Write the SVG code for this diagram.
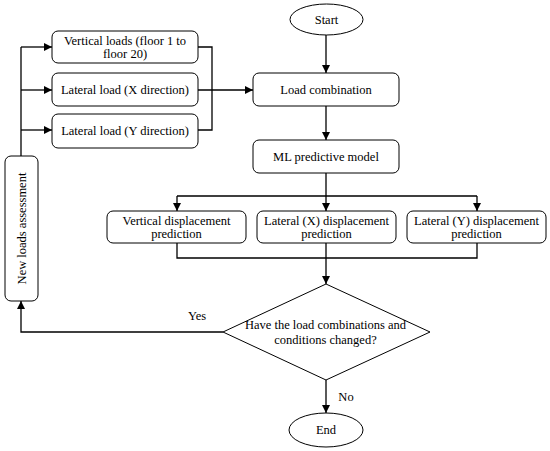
<svg xmlns="http://www.w3.org/2000/svg" width="550" height="451" viewBox="0 0 550 451">
<style>
text{font-family:"Liberation Serif","Times New Roman",serif;font-size:12.5px;fill:#000;text-anchor:middle}
.box{fill:#fff;stroke:#000;stroke-width:1}
.ln{fill:none;stroke:#000;stroke-width:1.3}
.ar{fill:none;stroke:#000;stroke-width:1.3;marker-end:url(#ah)}
</style>
<defs>
<marker id="ah" viewBox="0 0 10 10" refX="10" refY="5" markerWidth="8" markerHeight="8" markerUnits="userSpaceOnUse" orient="auto">
<path d="M0,0 L10,5 L0,10 z" fill="#000"/>
</marker>
</defs>
<rect width="550" height="451" fill="#fff"/>
<g id="connectors">
<path class="ar" d="M326,35 V73"/>
<path class="ar" d="M326,106 V140"/>
<path class="ln" d="M326,173 V196 M177,196 H477"/>
<path class="ar" d="M177,196 V211"/>
<path class="ar" d="M326,196 V211"/>
<path class="ar" d="M477,196 V211"/>
<path class="ln" d="M177,243 V258 H477 V243"/>
<path class="ar" d="M326,243 V284"/>
<path class="ar" d="M326,380 V413"/>
<path class="ar" d="M223,332 H21 V301"/>
<path class="ln" d="M21,156 V47"/>
<path class="ar" d="M21,47 H52"/>
<path class="ar" d="M21,90 H52"/>
<path class="ar" d="M21,130 H52"/>
<path class="ln" d="M198,47 H212 V130 H198"/>
<path class="ar" d="M198,90 H253"/>
</g>
<g id="start">
<ellipse class="box" cx="326.5" cy="19.5" rx="36.5" ry="15.5"/>
<text x="326.5" y="24">Start</text>
</g>
<g id="load-combination">
<rect class="box" x="253" y="73" width="146" height="33" rx="6"/>
<text x="326" y="94">Load combination</text>
</g>
<g id="ml-model">
<rect class="box" x="253" y="140" width="146" height="33" rx="6"/>
<text x="326" y="161">ML predictive model</text>
</g>
<g id="vertical-loads">
<rect class="box" x="52" y="31" width="146" height="32" rx="6"/>
<text x="125" y="45">Vertical loads (floor 1 to</text>
<text x="125" y="58">floor 20)</text>
</g>
<g id="lateral-x-load">
<rect class="box" x="52" y="73" width="146" height="33" rx="6"/>
<text x="125" y="94">Lateral load (X direction)</text>
</g>
<g id="lateral-y-load">
<rect class="box" x="52" y="114" width="146" height="34" rx="6"/>
<text x="125" y="135">Lateral load (Y direction)</text>
</g>
<g id="vertical-disp">
<rect class="box" x="107" y="211" width="139" height="32" rx="6"/>
<text x="176.5" y="225">Vertical displacement</text>
<text x="176.5" y="238">prediction</text>
</g>
<g id="lateral-x-disp">
<rect class="box" x="257" y="211" width="139" height="32" rx="6"/>
<text x="326.5" y="225">Lateral (X) displacement</text>
<text x="326.5" y="238">prediction</text>
</g>
<g id="lateral-y-disp">
<rect class="box" x="407" y="211" width="139" height="32" rx="6"/>
<text x="476.5" y="225">Lateral (Y) displacement</text>
<text x="476.5" y="238">prediction</text>
</g>
<g id="decision">
<path class="box" d="M326,284 L430,332 L326,380 L223,332 Z"/>
<text x="325.5" y="329">Have the load combinations and</text>
<text x="325.5" y="344">conditions changed?</text>
</g>
<g id="new-loads">
<rect class="box" x="5" y="156" width="33" height="145" rx="6"/>
<text x="0" y="0" transform="translate(25.5,228.5) rotate(-90)">New loads assessment</text>
</g>
<g id="end">
<ellipse class="box" cx="326" cy="430" rx="37" ry="17"/>
<text x="326" y="434">End</text>
</g>
<text x="197" y="320">Yes</text>
<text x="346" y="401">No</text>
</svg>
